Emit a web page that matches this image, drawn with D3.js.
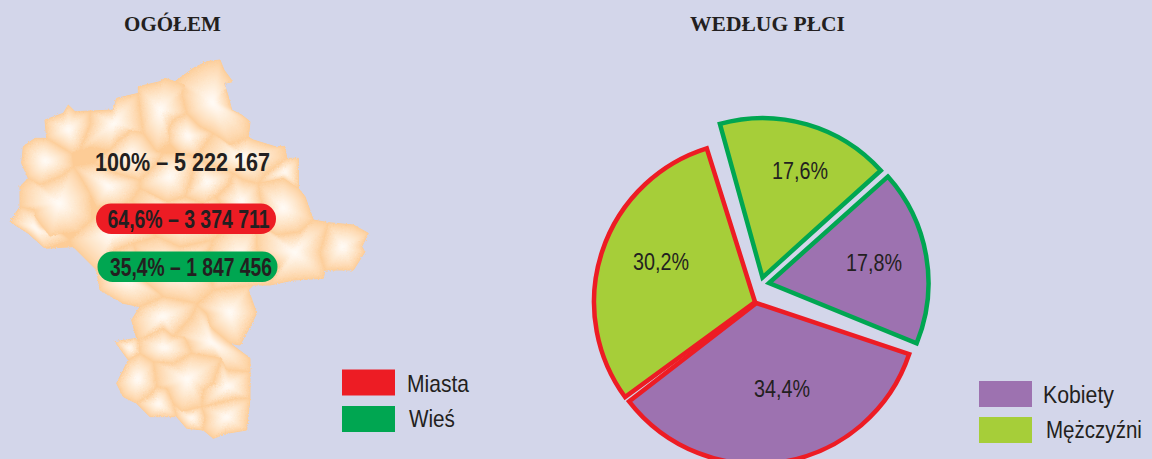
<!DOCTYPE html>
<html><head><meta charset="utf-8">
<script src="https://cdnjs.cloudflare.com/ajax/libs/d3/7.8.5/d3.min.js"></script>
<style>html,body{margin:0;padding:0;background:#d3d6ea;overflow:hidden}svg{display:block}</style>
</head><body><svg id="c" width="1152" height="459"></svg>
<script>
// ---- data ----
const titles = ["OGÓŁEM", "WEDŁUG PŁCI"];
const totalLabel = "100% – 5 222 167";
const areaCategories = ["Miasta", "Wieś"];
const areaLabels = ["64,6% – 3 374 711", "35,4% – 1 847 456"];
const sexCategories = ["Kobiety", "Mężczyźni"];
const cityShares = [34.4, 30.2];     // Kobiety, Mężczyźni
const villageShares = [17.6, 17.8];  // Mężczyźni, Kobiety
// outline of the region and of its counties, in map units
const regionOutline = [[620,35],[660,30],[672,60],[698,95],[672,100],[685,140],[695,180],[725,195],[750,215],[745,262],[760,270],[825,290],[855,290],[860,325],[895,325],[895,415],[915,440],[940,510],[985,518],[1060,525],[1105,550],[1085,590],[1095,605],[1060,660],[975,660],[970,685],[880,690],[810,705],[760,705],[745,720],[770,790],[750,830],[720,885],[690,880],[750,925],[750,1045],[740,1140],[680,1150],[640,1165],[610,1140],[560,1135],[530,1100],[450,1100],[410,1060],[370,1040],[350,1000],[385,930],[345,875],[410,865],[395,810],[420,770],[370,760],[300,720],[290,660],[220,590],[135,595],[85,550],[30,515],[60,470],[60,410],[85,385],[65,340],[70,290],[105,265],[140,265],[135,210],[190,190],[205,165],[225,185],[340,180],[350,145],[415,130],[415,110],[480,95],[495,85],[525,95],[580,55]];
const countyOutlines = [
[[620,35],[660,30],[672,60],[698,95],[672,100],[685,140],[695,180],[725,195],[750,215],[745,262],[690,285],[640,250],[600,230],[560,190],[545,130],[555,105],[525,95],[580,55]],
[[415,110],[480,95],[495,85],[555,105],[545,130],[560,190],[520,210],[505,240],[510,280],[470,305],[430,250],[420,180],[415,130]],
[[520,210],[560,190],[600,230],[640,250],[610,290],[590,320],[540,310],[510,280],[505,240]],
[[270,185],[340,180],[350,145],[415,130],[420,180],[430,250],[395,240],[350,275],[330,300],[270,290],[240,300],[270,225]],
[[135,210],[190,190],[205,165],[225,185],[270,185],[270,225],[240,300],[215,310],[165,280],[140,265]],
[[70,290],[105,265],[140,265],[165,280],[215,310],[220,350],[190,375],[120,405],[85,385],[65,340]],
[[350,275],[395,240],[430,250],[470,305],[490,310],[470,340],[420,390],[350,370],[280,340],[330,300]],
[[640,250],[690,285],[745,262],[760,270],[825,290],[855,290],[860,325],[800,370],[775,400],[730,390],[700,370],[620,340],[590,320],[610,290]],
[[860,325],[895,325],[895,415],[850,385],[775,400],[800,370]],
[[470,340],[490,310],[540,310],[590,320],[570,400],[555,440],[500,455],[420,415],[420,390]],
[[220,350],[280,340],[350,370],[420,390],[420,415],[395,450],[360,470],[290,470],[270,430],[235,370]],
[[60,410],[85,385],[120,405],[190,375],[220,350],[235,370],[270,430],[275,510],[235,545],[185,550],[150,560],[105,500],[105,480],[60,470]],
[[30,515],[60,470],[105,480],[105,500],[150,560],[185,550],[210,570],[135,595],[85,550]],
[[590,320],[620,340],[700,370],[690,400],[650,440],[610,460],[555,440],[570,400]],
[[700,370],[730,390],[775,400],[780,440],[790,470],[770,520],[690,520],[650,440],[690,400]],
[[775,400],[850,385],[895,415],[915,440],[940,510],[900,545],[830,555],[770,520],[790,470],[780,440]],
[[420,415],[500,455],[555,440],[610,460],[650,440],[690,520],[640,570],[540,590],[470,560],[395,450]],
[[235,545],[275,510],[360,470],[395,450],[470,560],[400,580],[345,600],[290,660],[220,590],[210,570]],
[[830,555],[900,545],[940,510],[985,518],[960,610],[975,660],[970,685],[880,690],[810,705],[840,650],[770,600],[770,520]],
[[985,518],[1060,525],[1105,550],[1085,590],[1095,605],[1060,660],[975,660],[960,610]],
[[640,570],[690,520],[770,520],[770,600],[840,650],[810,705],[760,705],[640,720],[620,620]],
[[470,560],[540,590],[640,570],[620,620],[640,720],[590,760],[490,740],[430,690],[400,580]],
[[345,600],[400,580],[430,690],[490,740],[420,770],[370,760],[300,720],[290,660]],
[[640,720],[760,705],[745,720],[770,790],[750,830],[720,885],[690,880],[630,830],[620,790],[590,765]],
[[420,770],[490,740],[590,760],[590,765],[575,800],[520,860],[490,835],[450,855],[415,870],[395,810]],
[[590,765],[620,790],[630,830],[690,880],[750,925],[750,965],[680,960],[665,925],[575,910],[555,860],[520,860],[575,800]],
[[415,870],[450,855],[490,835],[520,860],[555,860],[575,910],[520,940],[460,935],[420,910]],
[[345,875],[410,865],[415,870],[420,910],[385,930]],
[[385,930],[420,910],[460,935],[470,1010],[450,1035],[410,1060],[370,1040],[350,1000]],
[[460,935],[520,940],[575,910],[665,925],[640,1000],[610,1020],[605,1070],[545,1085],[520,1060],[500,1015],[470,1010]],
[[665,925],[680,960],[750,965],[750,1045],[710,1045],[605,1070],[610,1020],[640,1000]],
[[470,1010],[500,1015],[520,1060],[530,1100],[450,1100],[410,1060],[450,1035]],
[[605,1070],[710,1045],[750,1045],[740,1140],[680,1150],[640,1165],[610,1140],[615,1100]],
[[520,1060],[545,1085],[605,1070],[615,1100],[610,1140],[560,1135],[530,1100]]
];

// ---- style ----
const RED="#ed1c24", GREEN="#00a651", PURPLE="#9d72b0", LIME="#a6ce39", INK="#231f20";
const SANS="'Liberation Sans',sans-serif", SERIF="'Liberation Serif',serif";
const EDGE="#fdcc96", GLOW="#fffbf6";
const svg=d3.select("#c");
svg.append("rect").attr("width",1152).attr("height",459).attr("fill","#d3d6ea");

// places a text at x,y and squeezes it horizontally to a given width
function label(parent,str,x,y,w,o){
  const t=parent.append("text").attr("font-family",o.family||SANS).attr("font-size",o.size||24)
    .attr("font-weight",o.weight||"normal").attr("fill",INK).attr("text-anchor",o.anchor||"middle").text(str);
  const natural=t.node().getComputedTextLength();
  t.attr("transform",`translate(${x},${y}) scale(${w/natural},1)`);
  return t;
}

// titles
label(svg,titles[0],172.5,31,97,{family:SERIF,weight:"bold",size:21});
label(svg,titles[1],767.5,31,155,{family:SERIF,weight:"bold",size:21});

// map
const mapX=d3.scaleLinear().domain([0,1152]).range([0,384]);
const mapY=d3.scaleLinear().domain([0,1200]).range([50,450]);
const line=d3.line().x(p=>mapX(p[0])).y(p=>mapY(p[1])).curve(d3.curveLinearClosed);
const defs=svg.append("defs");
const f=defs.append("filter").attr("id","rough").attr("x","-5%").attr("y","-5%").attr("width","110%").attr("height","110%");
f.append("feTurbulence").attr("type","fractalNoise").attr("baseFrequency",0.6).attr("numOctaves",2).attr("seed",4).attr("result","n");
f.append("feDisplacementMap").attr("in","SourceGraphic").attr("in2","n").attr("scale",3);
defs.append("filter").attr("id","soft").append("feGaussianBlur").attr("stdDeviation",1.4);
const map=svg.append("g").attr("filter","url(#rough)");
map.append("path").attr("d",line(regionOutline)).attr("fill",EDGE).attr("stroke",EDGE);
const steps=d3.range(1,20);
const tint=d3.scaleLinear().domain([0,19]).range([0,1]);
countyOutlines.forEach((poly,n)=>{
  const c=d3.polygonCentroid(poly);
  defs.append("clipPath").attr("id","cty"+n).append("path").attr("d",line(poly));
  const g=map.append("g").attr("clip-path",`url(#cty${n})`);
  g.append("path").attr("d",line(poly)).attr("fill",EDGE);
  g.append("g").attr("filter","url(#soft)").selectAll("path").data(steps).join("path")
    .attr("fill",s=>d3.interpolateRgb(EDGE,GLOW)(Math.pow(tint(s),0.8)))
    .attr("d",s=>{const k=1-tint(s)*0.98+0.05;return line(poly.map(p=>[c[0]+(p[0]-c[0])*k,c[1]+(p[1]-c[1])*k]));});
});

// map labels
label(svg,totalLabel,182.5,171,175,{weight:"bold",size:25});
const pills=svg.selectAll("g.pill").data(areaLabels).join("g").attr("class","pill")
 .attr("transform",(d,i)=>`translate(${[96,97.5][i]},${[203.5,251.5][i]})`);
pills.append("rect").attr("width",180).attr("height",30.5).attr("rx",15.2).attr("fill",(d,i)=>[RED,GREEN][i]);
pills.each(function(d,i){label(d3.select(this),d,[92.5,93.5][i],24,162,{weight:"bold",size:25});});

// legends
function legend(names,colors,xr,ys,xt,offs,widths){
  names.forEach((nm,i)=>{
    svg.append("rect").attr("x",xr).attr("y",ys[i]).attr("width",53).attr("height",26).attr("fill",colors[i]);
    label(svg,nm,xt[i],ys[i]+offs[i],widths[i],{anchor:"start"});
  });
}
legend(areaCategories,[RED,GREEN],342,[369.5,406],[407,409],[22,21],[62,46]);
legend(sexCategories,[PURPLE,LIME],979,[381,417],[1043,1046],[22,21],[71,96]);

// pies
const deg=Math.PI/180;
function wedges(values,startDeg,fills,stroke,centres,labelPos,turn,r){
  const arc=d3.arc().innerRadius(0).outerRadius(r);
  const sum=d3.sum(values);
  const pie=d3.pie().sort(null).startAngle(startDeg*deg).endAngle((startDeg+sum/100*360)*deg);
  const g=svg.append("g").selectAll("g").data(pie(values)).join("g")
    .attr("transform",(d,i)=>`translate(${centres[i]}) rotate(${turn[i]})`);
  g.append("path").attr("d",arc).attr("fill",(d,i)=>fills[i]).attr("stroke",stroke).attr("stroke-width",4.5).attr("stroke-linejoin","miter").attr("stroke-miterlimit",12);
  values.forEach((v,i)=>label(svg,v.toFixed(1).replace(".",",")+"%",labelPos[i][0],labelPos[i][1],56,{}));
}
wedges(cityShares,108.5,[PURPLE,LIME],RED,[[756.5,303],[755,302]],[[782,397],[661,270]],[0,1.5],161);
wedges(villageShares,345.5,[LIME,PURPLE],GREEN,[[762.5,277.5],[769,283]],[[800,179],[874,271]],[-1,-0.7],159.5);
</script></body></html>
